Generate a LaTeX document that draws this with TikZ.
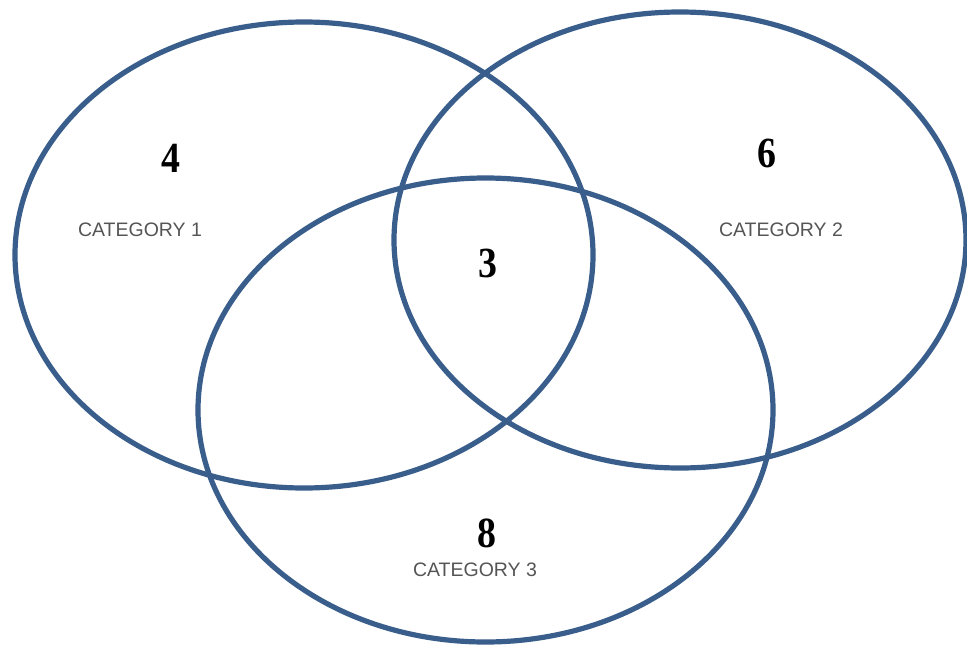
\documentclass[tikz,border=0pt]{standalone}
\usepackage{fontspec}
\setmainfont{Liberation Serif}
\newfontfamily\catfont{Liberation Sans}
\definecolor{vennblue}{RGB}{58,94,140}
\definecolor{catgray}{RGB}{85,85,85}
\begin{document}
\begin{tikzpicture}[x=1pt,y=-1pt,
  ring/.style={draw=vennblue,line width=5.2pt},
  num/.style={inner sep=0pt,xscale=0.88,font=\fontsize{43}{43}\selectfont\bfseries},
  cat/.style={inner sep=0pt,text=catgray,font=\catfont\fontsize{19.5}{20}\selectfont}]
\useasboundingbox[fill=white] (0,0) rectangle (967,648);
\draw[ring] (304,255) ellipse [x radius=289pt, y radius=233pt];
\draw[ring] (680,240) ellipse [x radius=286pt, y radius=228pt];
\draw[ring] (485.5,410) ellipse [x radius=287.5pt, y radius=232pt];
\node[num] (n4) at (171,158) {4};
\node[cat] (c1) at (140,230) {CATEGORY 1};
\node[num] (n6) at (767,153) {6};
\node[cat] (c2) at (781,230) {CATEGORY 2};
\node[num] (n3) at (488,263) {3};
\node[num] (n8) at (487,533) {8};
\node[cat] (c3) at (475,570) {CATEGORY 3};
\end{tikzpicture}
\end{document}
